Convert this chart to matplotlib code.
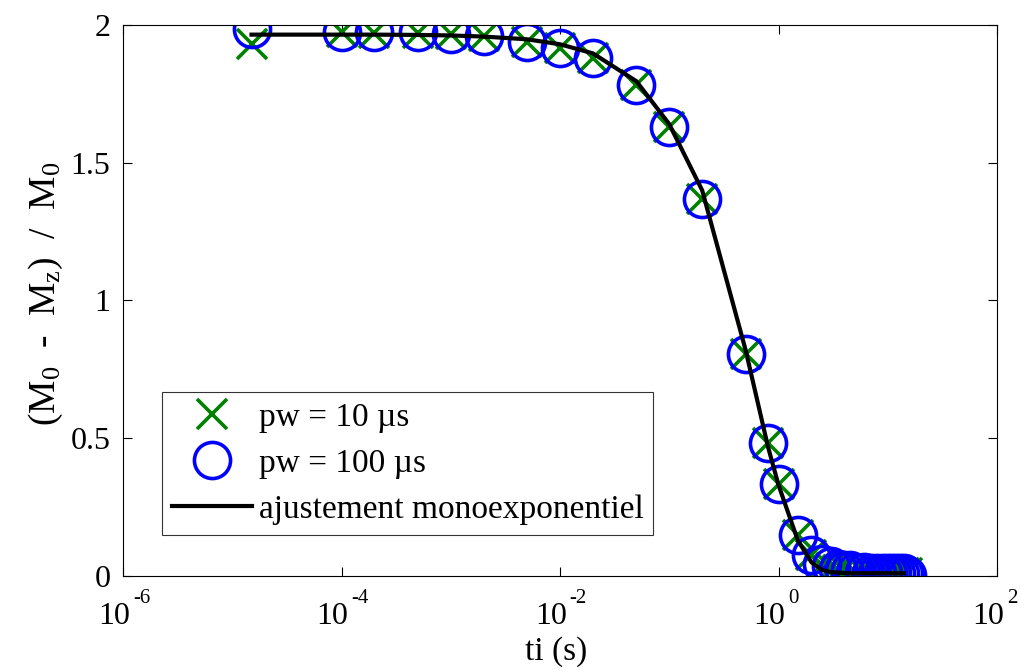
import numpy as np
import matplotlib
matplotlib.use('Agg')
import matplotlib.pyplot as plt

plt.rcParams['font.family'] = ['Liberation Serif', 'DejaVu Serif']
plt.rcParams['mathtext.fontset'] = 'custom'
plt.rcParams['mathtext.rm'] = 'Liberation Serif'
plt.rcParams['mathtext.it'] = 'Liberation Serif:italic'

# inversion times (s)
ti = [1.5e-5, 1e-4, 2e-4, 5e-4, 1e-3, 2e-3, 5e-3, 1e-2, 2e-2, 5e-2,
      0.1, 0.2, 0.5, 0.8, 1.0, 1.5, 2.0,
      2.5, 3, 3.5, 4, 4.5, 5, 6, 7, 8, 9, 10, 11, 12, 13, 14, 15]

# pw = 10 us (crosses)
y_pw10 = [1.931, 1.973, 1.972, 1.972, 1.967, 1.961, 1.937, 1.915, 1.882, 1.782,
          1.629, 1.367, 0.804, 0.483, 0.335, 0.149, 0.076,
          0.04, 0.03, 0.02, 0.02, 0.015, 0.015, 0.01, 0.01, 0.01, 0.01,
          0.01, 0.01, 0.01, 0.01, 0.01, 0.01]

# pw = 100 us (circles)
y_pw100 = [1.985, 1.973, 1.973, 1.973, 1.967, 1.961, 1.937, 1.915, 1.882, 1.782,
           1.629, 1.367, 0.804, 0.483, 0.335, 0.149, 0.076,
           0.045, 0.035, 0.025, 0.02, 0.02, 0.015, 0.015, 0.01, 0.01, 0.01,
           0.01, 0.01, 0.01, 0.01, 0.01, 0.005]

# monoexponential fit, sampled at the data times
ti_fit = ti[:-1]
y_fit = [1.965, 1.965, 1.965, 1.964, 1.962, 1.958, 1.948, 1.93, 1.897, 1.796,
         1.64, 1.40, 0.82, 0.47, 0.33, 0.13, 0.05,
         0.022, 0.014, 0.012, 0.011, 0.01, 0.01, 0.01, 0.01, 0.01, 0.01,
         0.01, 0.01, 0.01, 0.01, 0.01]

xticks = [1e-6, 1e-4, 1e-2, 1e0, 1e2]
xexponents = ['-6', '-4', '-2', '0', '2']
yticks = [0, 0.5, 1, 1.5, 2]
yticklabels = ['0', '0.5', '1', '1.5', '2']

fig = plt.figure(figsize=(10.21, 6.70), dpi=100)
ax = fig.add_axes([0.1205, 0.1403, 0.856, 0.8224])

ax.plot(ti, y_pw10, linestyle='none', marker='x', color='#008000',
        markersize=21, markeredgewidth=2.6, label='pw = 10 µs')
ax.plot(ti, y_pw100, linestyle='none', marker='o', color='#0000ff',
        markerfacecolor='none', markersize=26, markeredgewidth=2.6,
        label='pw = 100 µs')
ax.plot(ti_fit, y_fit, color='black', linewidth=3, label='ajustement monoexponentiel')

ax.set_xscale('log')
ax.set_xlim(1e-6, 1e2)
ax.set_ylim(0, 2)
ax.set_xticks(xticks)
ax.set_xticklabels([''] * len(xticks))
ax.minorticks_off()
ax.set_yticks(yticks)
ax.set_yticklabels(yticklabels)

ax.tick_params(direction='in', top=True, right=True, length=6.5, width=0.8,
               labelsize=23, pad=9)
for s in ax.spines.values():
    s.set_linewidth(0.8)

# MATLAB-style log labels: "10" with a small raised exponent
for xt, ex in zip(xticks, xexponents):
    ax.annotate('10', xy=(xt, 0), xycoords=('data', 'axes fraction'),
                xytext=(5, -19), textcoords='offset points',
                ha='right', va='top', fontsize=23)
    ax.annotate(ex, xy=(xt, 0), xycoords=('data', 'axes fraction'),
                xytext=(7, -9.5), textcoords='offset points',
                ha='left', va='top', fontsize=15)

ax.set_xlabel('ti (s)', fontsize=24)
ax.xaxis.set_label_coords(0.495, -0.11)
ax.set_ylabel('(M$_0$  -  M$_\\mathrm{z}$)  /  M$_0$', fontsize=27)
ax.yaxis.set_label_coords(-0.066, 0.512)

leg = ax.legend(loc='lower left', bbox_to_anchor=(0.0446, 0.0744),
                borderaxespad=0, fontsize=24, frameon=True, fancybox=False,
                handlelength=2.4, handletextpad=0.2, labelspacing=0.47,
                borderpad=0.3)
leg.get_frame().set_edgecolor('black')
leg.get_frame().set_linewidth(0.8)

fig.savefig('out.png', dpi=100)
